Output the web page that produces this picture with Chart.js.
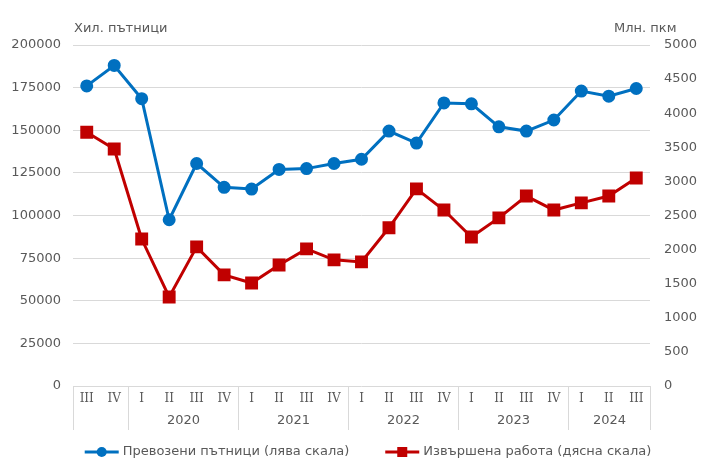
<!DOCTYPE html>
<html>
<head>
<meta charset="utf-8">
<script src="https://cdn.jsdelivr.net/npm/chart.js@4.4.1/dist/chart.umd.min.js"></script>
<style>
  html, body { margin: 0; padding: 0; background: #fff; }
</style>
</head>
<body>
<canvas id="chart" width="720" height="474"></canvas>
<script>
// quarter labels and the year each one belongs to (first two are 2019, unlabelled)
var quarters = ['III', 'IV', 'I', 'II', 'III', 'IV', 'I', 'II', 'III', 'IV', 'I', 'II', 'III', 'IV', 'I', 'II', 'III', 'IV', 'I', 'II', 'III'];
var years = ['', '', '2020', '2020', '2020', '2020', '2021', '2021', '2021', '2021', '2022', '2022', '2022', '2022', '2023', '2023', '2023', '2023', '2024', '2024', '2024'];

// thousand passengers (left scale)
var passengers = [176000, 188000, 168500, 97500, 130500, 116500, 115500, 127000, 127500, 130500, 133000, 149500, 142500, 166000, 165500, 152000, 149500, 156000, 173000, 170000, 174500];
// million passenger-km (right scale)
var passengerKm = [3720, 3475, 2155, 1305, 2040, 1630, 1510, 1775, 2010, 1850, 1820, 2320, 2890, 2580, 2185, 2465, 2785, 2580, 2685, 2785, 3050];

var leftTitle = 'Хил. пътници';
var rightTitle = 'Млн. пкм';
var blueLabel = 'Превозени пътници (лява скала)';
var redLabel = 'Извършена работа (дясна скала)';

var blue = '#0070C0';
var red = '#C00000';
var grey = '#595959';
var gridGrey = '#d9d9d9';
var sans = 'DejaVu Sans, Verdana, sans-serif';

function drawMarker(ctx, style, color, x, y) {
  ctx.fillStyle = color;
  if (style === 'circle') {
    ctx.beginPath();
    ctx.arc(x, y, 5, 0, Math.PI * 2);
    ctx.fill();
  } else {
    ctx.fillRect(x - 5, y - 5, 10, 10);
  }
}

// axis titles, year groups under the quarters, and the legend
var extrasPlugin = {
  id: 'extras',
  afterDraw: function(chart) {
    var ctx = chart.ctx;
    var xs = chart.scales.x;
    var area = chart.chartArea;
    var half = (xs.getPixelForValue(1) - xs.getPixelForValue(0)) / 2;

    ctx.save();
    ctx.font = '13px ' + sans;
    ctx.fillStyle = grey;
    ctx.textBaseline = 'middle';
    ctx.textAlign = 'left';
    ctx.fillText(leftTitle, 74, 29);
    ctx.fillText(rightTitle, 614, 29);

    // group separators + year labels
    ctx.strokeStyle = gridGrey;
    ctx.lineWidth = 1;
    var start = 0;
    for (var i = 1; i <= years.length; i++) {
      if (i === years.length || years[i] !== years[start]) {
        var x0 = Math.round(xs.getPixelForValue(start) - half) + 0.5;
        var x1 = Math.round(xs.getPixelForValue(i - 1) + half) + 0.5;
        ctx.beginPath();
        ctx.moveTo(x0, area.bottom);
        ctx.lineTo(x0, area.bottom + 44);
        ctx.stroke();
        if (i === years.length) {
          ctx.beginPath();
          ctx.moveTo(x1, area.bottom);
          ctx.lineTo(x1, area.bottom + 44);
          ctx.stroke();
        }
        if (years[start] !== '') {
          ctx.textAlign = 'center';
          ctx.fillText(years[start], (x0 + x1) / 2, area.bottom + 35);
        }
        start = i;
      }
    }

    // legend
    var items = [
      { text: blueLabel, color: blue, style: 'circle' },
      { text: redLabel, color: red, style: 'rect' }
    ];
    var lineW = 34, gap = 4, between = 36;
    var total = 0;
    items.forEach(function(it) {
      it.w = ctx.measureText(it.text).width;
      total += lineW + gap + it.w;
    });
    total += between;
    var lx = (chart.width - total) / 2 + 8;
    var ly = 452;
    ctx.textAlign = 'left';
    items.forEach(function(it) {
      ctx.strokeStyle = it.color;
      ctx.lineWidth = 3;
      ctx.beginPath();
      ctx.moveTo(lx, ly);
      ctx.lineTo(lx + lineW, ly);
      ctx.stroke();
      drawMarker(ctx, it.style, it.color, lx + lineW / 2, ly);
      ctx.fillStyle = grey;
      ctx.fillText(it.text, lx + lineW + gap, ly);
      lx += lineW + gap + it.w + between;
    });
    ctx.restore();
  }
};

function plainNumber(v) { return String(v); }

var ctx = document.getElementById('chart').getContext('2d');
var chart = new Chart(ctx, {
  type: 'line',
  data: {
    labels: quarters,
    datasets: [{
      label: blueLabel,
      data: passengers,
      yAxisID: 'y',
      borderColor: blue,
      backgroundColor: blue,
      borderWidth: 3,
      pointStyle: 'circle',
      pointRadius: 5,
      pointHoverRadius: 5,
      tension: 0
    }, {
      label: redLabel,
      data: passengerKm,
      yAxisID: 'y1',
      borderColor: red,
      backgroundColor: red,
      borderWidth: 3,
      pointStyle: 'rect',
      pointRadius: 7,
      pointHoverRadius: 7,
      tension: 0
    }]
  },
  options: {
    responsive: false,
    animation: false,
    layout: { padding: { top: 45, bottom: 40, left: 0, right: 0 } },
    plugins: {
      legend: { display: false },
      tooltip: { enabled: false }
    },
    scales: {
      x: {
        type: 'category',
        offset: true,
        grid: { display: false, drawTicks: false },
        border: { display: false },
        ticks: {
          color: grey,
          font: { family: 'DejaVu Serif, serif', size: 12 },
          padding: 6,
          maxRotation: 0,
          autoSkip: false
        },
        afterFit: function(s) { s.height = 48; }
      },
      y: {
        position: 'left',
        min: 0,
        max: 200000,
        grid: { color: gridGrey, drawTicks: false },
        border: { display: false },
        ticks: {
          stepSize: 25000,
          color: grey,
          font: { family: sans, size: 13 },
          padding: 12,
          callback: plainNumber
        },
        afterFit: function(s) { s.width = 73; }
      },
      y1: {
        position: 'right',
        min: 0,
        max: 5000,
        grid: { drawOnChartArea: false, drawTicks: false },
        border: { display: false },
        ticks: {
          stepSize: 500,
          color: grey,
          font: { family: sans, size: 13 },
          padding: 14,
          callback: plainNumber
        },
        afterFit: function(s) { s.width = 70; }
      }
    }
  },
  plugins: [extrasPlugin]
});
</script>
</body>
</html>
